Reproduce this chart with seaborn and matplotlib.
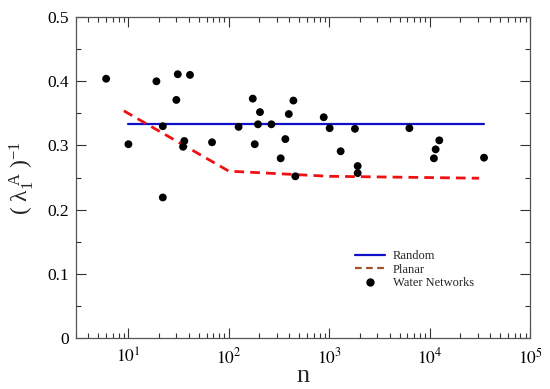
import matplotlib
matplotlib.use("Agg")
import matplotlib.pyplot as plt
import seaborn as sns
import numpy as np
import pandas as pd
from matplotlib.lines import Line2D
from matplotlib.ticker import LogLocator, MultipleLocator, FuncFormatter

# Data
water_n = [6, 10, 19, 22, 22, 30, 31, 41, 36, 35, 68, 125, 173, 181, 195, 204, 265,
           365, 328, 395, 439, 459, 880, 1008, 1297, 1800, 1916, 1916, 6270, 11000,
           11450, 12440, 34700]
water_y = [0.404, 0.302, 0.400, 0.330, 0.219, 0.371, 0.411, 0.410, 0.307, 0.298, 0.305,
           0.329, 0.373, 0.302, 0.333, 0.352, 0.333, 0.310, 0.280, 0.349, 0.370, 0.252,
           0.344, 0.327, 0.291, 0.326, 0.268, 0.257, 0.327, 0.280, 0.294, 0.308, 0.281]
random_n = [10, 35000]
random_y = [0.333, 0.333]
planar_n = [9, 100, 1000, 10000, 31000]
planar_y = [0.354, 0.260, 0.252, 0.250, 0.249]

sns.set_style("ticks")
plt.rcParams['font.family'] = ['Liberation Serif', 'DejaVu Serif']
plt.rcParams['mathtext.fontset'] = 'stix'

fig = plt.figure(figsize=(5.5, 3.89), dpi=100)
ax = fig.add_axes([0.138, 0.131, 0.826, 0.825])

df_w = pd.DataFrame({'n': water_n, 'y': water_y})
df_r = pd.DataFrame({'n': random_n, 'y': random_y})
df_p = pd.DataFrame({'n': planar_n, 'y': planar_y})

sns.lineplot(data=df_r, x='n', y='y', ax=ax, color='#1010c8', linewidth=1.6, zorder=2)
sns.lineplot(data=df_p, x='n', y='y', ax=ax, color='#ee1111', linewidth=2.0,
             linestyle=(0, (3.5, 2.2)), zorder=2)
sns.scatterplot(data=df_w, x='n', y='y', ax=ax, color='black', s=32, edgecolor='none', zorder=3)

ax.set_xscale('log')
ax.set_xlim(3, 1e5)
ax.set_ylim(0, 0.5)

ax.xaxis.set_major_locator(LogLocator(base=10, numticks=10))
ax.xaxis.set_minor_locator(LogLocator(base=10, subs=np.arange(2, 10), numticks=20))
ax.xaxis.set_major_formatter(FuncFormatter(lambda v, p: r'$10^{%d}$' % int(round(np.log10(v)))))
ax.yaxis.set_major_locator(MultipleLocator(0.1))
ax.yaxis.set_minor_locator(MultipleLocator(0.05))
ax.yaxis.set_major_formatter(FuncFormatter(lambda v, p: '0' if abs(v) < 1e-9 else ('%.1f' % v)))

ax.tick_params(which='both', direction='in', top=True, right=True, labelsize=12.5, colors='#333333',
               labelcolor='black')
ax.tick_params(which='major', length=7, width=0.8)
ax.tick_params(which='minor', length=3.5, width=0.8)
ax.tick_params(axis='x', which='major', pad=7)
ax.tick_params(axis='y', which='major', pad=5)
for sp in ax.spines.values():
    sp.set_color('#555555')
    sp.set_linewidth(0.9)

ax.set_xlabel('n', fontsize=19)
ax.xaxis.set_label_coords(0.5, -0.085)
ax.set_ylabel(r'$\mathregular{(\ λ_1^{\ A}\ )^{-1}}$', fontsize=17)
ax.yaxis.set_label_coords(-0.088, 0.5)

handles = [Line2D([], [], color='#1010c8', linewidth=1.6),
           Line2D([], [], color='#a0522d', linewidth=1.6, linestyle=(0, (3, 2))),
           Line2D([], [], color='black', marker='o', linestyle='none', markersize=5)]
ax.legend(handles, ['Random', 'Planar', 'Water Networks'], loc='center left',
          bbox_to_anchor=(0.59, 0.213), frameon=False, fontsize=9,
          handlelength=2.4, handletextpad=0.6, labelspacing=0.1)

fig.savefig('out.png', dpi=100)
